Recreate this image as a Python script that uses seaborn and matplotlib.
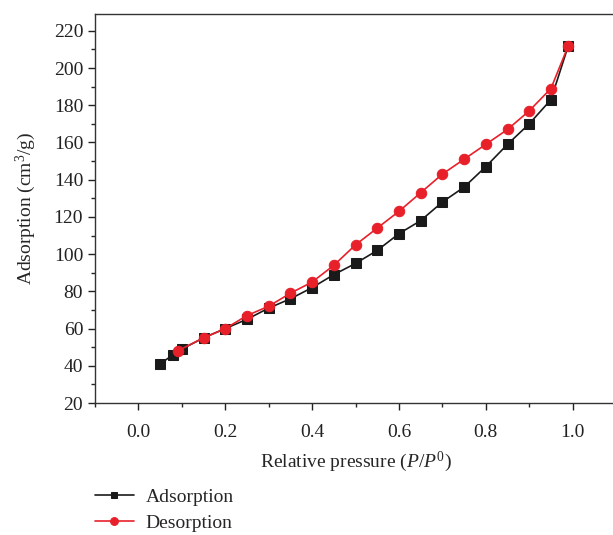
import numpy as np
import pandas as pd
import matplotlib
matplotlib.use('Agg')
import matplotlib.pyplot as plt
from matplotlib.ticker import MultipleLocator
import seaborn as sns

ads_p = [0.05, 0.08, 0.10, 0.15, 0.20, 0.25, 0.30, 0.35, 0.40, 0.45, 0.50,
         0.55, 0.60, 0.65, 0.70, 0.75, 0.80, 0.85, 0.90, 0.95, 0.99]
ads_v = [41, 46, 49, 55, 60, 65, 71, 76, 82, 89, 95,
         102, 111, 118, 128, 136, 147, 159, 170, 183, 212]
des_p = [0.99, 0.95, 0.90, 0.85, 0.80, 0.75, 0.70, 0.65, 0.60, 0.55, 0.50,
         0.45, 0.40, 0.35, 0.30, 0.25, 0.20, 0.15, 0.09]
des_v = [212, 189, 177, 167, 159, 151, 143, 133, 123, 114, 105,
         94, 85, 79, 72, 67, 60, 55, 48]

sns.set_style('ticks')
plt.rcParams['font.family'] = ['Liberation Serif', 'DejaVu Serif']
plt.rcParams['mathtext.fontset'] = 'custom'
plt.rcParams['mathtext.rm'] = 'Liberation Serif'
plt.rcParams['mathtext.it'] = 'Liberation Serif:italic'

fig = plt.figure(figsize=(6.13, 5.35), dpi=100)
ax = fig.add_axes([0.155, 0.2467, 0.85, 0.727])

ads = pd.DataFrame({'p': ads_p, 'v': ads_v})
des = pd.DataFrame({'p': des_p, 'v': des_v})
sns.lineplot(data=ads, x='p', y='v', ax=ax, sort=False, color='#1a1a1a',
             marker='s', markersize=6.5, markeredgecolor='#1a1a1a', lw=1.2,
             label='Adsorption')
sns.lineplot(data=des, x='p', y='v', ax=ax, sort=False, color='#e8202a',
             marker='o', markersize=7.5, markeredgecolor='#e8202a', lw=1.2,
             label='Desorption')

ax.set_xlim(-0.1, 1.1)
ax.set_ylim(20, 229)
ax.xaxis.set_major_locator(MultipleLocator(0.2))
ax.xaxis.set_minor_locator(MultipleLocator(0.1))
ax.yaxis.set_major_locator(MultipleLocator(20))
ax.yaxis.set_minor_locator(MultipleLocator(10))
ax.tick_params(which='major', length=5, width=1, labelsize=14, colors='#222222')
ax.tick_params(which='minor', length=3, width=1)
ax.tick_params(axis='x', which='major', pad=10)
for s in ax.spines.values():
    s.set_color('#333333')
    s.set_linewidth(1)
ax.spines['right'].set_visible(False)

ax.set_xlabel('Relative pressure ($P/P^0$)', fontsize=14, labelpad=6)
ax.set_ylabel('Adsorption (cm$^3$/g)', fontsize=14, labelpad=11)

ax.legend_.remove()
h, l = ax.get_legend_handles_labels()
fig.legend(h, l, loc='upper left', bbox_to_anchor=(0.142, 0.102), frameon=False,
           fontsize=14, handlelength=2.0, handletextpad=0.6, labelspacing=0.45,
           borderaxespad=0, markerscale=0.75)

fig.savefig('out.png', dpi=100)
